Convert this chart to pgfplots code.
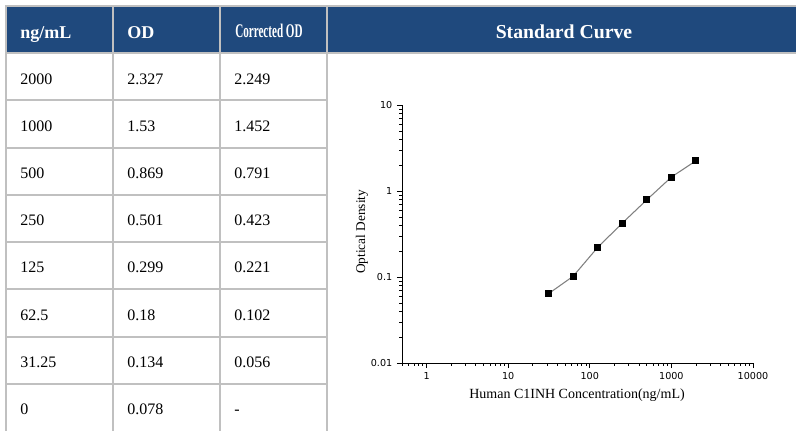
\documentclass[border=0pt]{standalone}
\usepackage{fontspec}
\setmainfont{Liberation Serif}
\newfontfamily\tickfont{DejaVu Sans}
\usepackage{pgfplots}
\pgfplotsset{compat=1.18}
\definecolor{hdr}{RGB}{31,73,125}
\definecolor{gridc}{RGB}{192,192,192}
\definecolor{linec}{RGB}{128,128,128}
\begin{document}
\begin{tikzpicture}
\begin{scope}[x=0.75pt,y=-0.75pt]
\useasboundingbox (0,0) rectangle (796,430);
\begin{scope}
\clip (0,0) rectangle (796,430);
\fill[hdr] (6,6) rectangle (810,53);
\draw[gridc,line width=1.5pt] (5,6) -- (810,6);
\draw[gridc,line width=1.5pt] (5,53) -- (810,53);
\foreach \yy in {100.3,147.5,194.7,242,289.2,336.5,383.7}
  \draw[gridc,line width=1.5pt] (5,\yy) -- (327,\yy);
\foreach \xx in {6,113,220,327}
  \draw[gridc,line width=1.5pt] (\xx,5) -- (\xx,440);
\end{scope}
% header
\begin{scope}[every node/.style={inner sep=0pt,text=white,font=\bfseries\fontsize{13.5}{16}\selectfont}]
\node[anchor=base west] at (20,38.3) {ng/mL};
\node[anchor=base west] at (127,38.3) {OD};
\node[anchor=base west] at (235,37.5) {\scalebox{0.575}[1]{\fontsize{14.5}{16}\selectfont\bfseries Corrected OD}};
\node[anchor=base,font=\bfseries\fontsize{14.8}{17}\selectfont] at (564,38.3) {Standard Curve};
\end{scope}
% body
\begin{scope}[every node/.style={inner sep=0pt,anchor=base west,font=\fontsize{12}{14}\selectfont}]
\foreach \c/\a/\b/\d in {84/2000/2.327/2.249, 131.2/1000/1.53/1.452, 178.4/500/0.869/0.791, 225.7/250/0.501/0.423, 272.9/125/0.299/0.221, 320.2/62.5/0.18/0.102, 367.4/31.25/0.134/0.056, 414.6/0/0.078/-}{
  \node at (20,\c) {\a};
  \node at (127,\c) {\b};
  \node at (234,\c) {\d};
}
\end{scope}
\end{scope}
\begin{loglogaxis}[
  at={(301.5pt,-272.25pt)}, anchor=south west,
  scale only axis, width=263.25pt, height=193.5pt,
  xmin=0.5, xmax=10000, ymin=0.01, ymax=10,
  axis lines*=left,
  axis line style={line width=0.7pt,black},
  xtick={0.1,1,10,100,1000,10000}, xticklabels={,1,10,100,1000,10000},
  ytick={0.01,0.1,1,10}, yticklabels={0.01,0.1,1,10},
  tick align=outside, major tick length=3.8pt, minor tick length=2.2pt,
  every tick/.style={black,line width=0.6pt},
  /pgf/number format/assume math mode=true,
  tick label style={font=\tickfont\fontsize{7.2}{9}\selectfont},
  xlabel={Human C1INH Concentration(ng/mL)},
  xlabel style={font=\fontsize{10.5}{12}\selectfont, at={(axis description cs:0.4986,-0.124)}, anchor=center},
  ylabel={Optical Density},
  ylabel style={font=\fontsize{10}{12}\selectfont, at={(axis description cs:-0.114,0.508)}, anchor=center},
  clip=false,
]
\addplot[linec, line width=0.8pt, mark=square*, mark size=2.2pt, mark options={black,fill=black,solid}]
  coordinates {(31.25,0.064) (62.5,0.102) (125,0.221) (250,0.423) (500,0.791) (1000,1.452) (2000,2.249)};
\end{loglogaxis}
\end{tikzpicture}
\end{document}
